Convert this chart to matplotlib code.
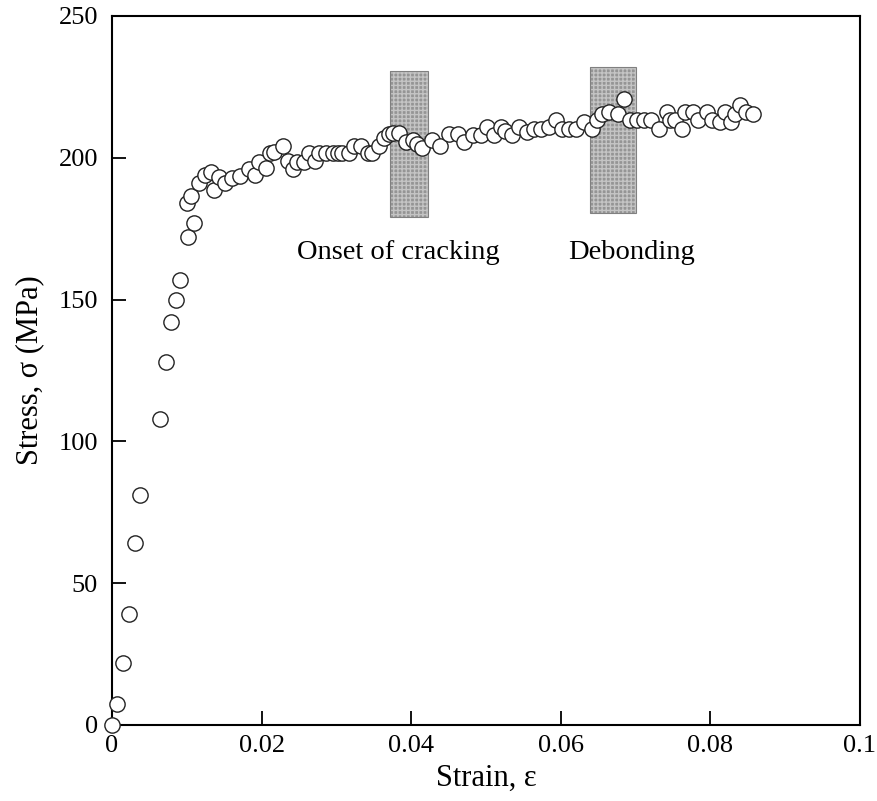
import matplotlib.pyplot as plt
from matplotlib.patches import Rectangle

strain = [0.0, 0.0007, 0.0015, 0.0023, 0.0031, 0.0037, 0.0064, 0.0072, 0.0079, 0.0085,
          0.0091, 0.0101, 0.0110, 0.0100, 0.0105, 0.0116, 0.0124, 0.0133, 0.0137, 0.0143,
          0.0151, 0.0160, 0.0171, 0.0183, 0.0191, 0.0196, 0.0206, 0.0211, 0.0217, 0.0228,
          0.0235, 0.0242, 0.0248, 0.0257, 0.0264, 0.0271, 0.0277, 0.0286, 0.0295, 0.0302,
          0.0308, 0.0317, 0.0324, 0.0333, 0.0342, 0.0348, 0.0357, 0.0364, 0.0370, 0.0376,
          0.0384, 0.0393, 0.0402, 0.0408, 0.0415, 0.0428, 0.0439, 0.0450, 0.0462, 0.0471,
          0.0482, 0.0493, 0.0502, 0.0511, 0.0520, 0.0526, 0.0535, 0.0544, 0.0555, 0.0564,
          0.0573, 0.0584, 0.0593, 0.0602, 0.0611, 0.0620, 0.0631, 0.0642, 0.0648, 0.0655,
          0.0664, 0.0677, 0.0684, 0.0693, 0.0702, 0.0711, 0.0720, 0.0731, 0.0742, 0.0746,
          0.0753, 0.0762, 0.0766, 0.0777, 0.0784, 0.0795, 0.0802, 0.0813, 0.0820, 0.0828,
          0.0833, 0.0840, 0.0848, 0.0857]
stress = [0.0, 7.5, 22, 39, 64, 81, 108, 128, 142, 150,
          157, 172, 177, 184, 186.5, 191, 194, 194.8, 188.6, 193.3,
          191, 192.7, 193.6, 196, 194, 198.6, 196.3, 201.6, 202, 204,
          199, 196, 198.6, 198.6, 201.6, 199, 201.6, 201.6, 201.6, 201.6,
          201.6, 201.6, 204, 204, 201.6, 201.6, 204, 206.8, 208.3, 208.6,
          208.8, 205.7, 206.3, 205, 203.3, 206.3, 204, 208.5, 208.5, 205.7,
          208, 208, 211, 208, 211, 209.6, 208, 211, 209, 210,
          210, 211, 213.3, 210, 210, 210, 212.6, 210, 213.3, 215.6,
          216, 215.6, 220.6, 213.3, 213.3, 213.3, 213.3, 210.3, 216.3, 213.3,
          213.3, 210.3, 216.3, 216.3, 213.3, 216.3, 213.3, 212.6, 216.3, 212.6,
          215.6, 218.6, 216.3, 215.6]

# shaded regions: (x0, x1, y0, y1) and label
zones = [(0.0372, 0.0423, 179, 230.5), (0.0639, 0.0700, 180.5, 232)]
zone_labels = ["Onset of cracking", "Debonding"]
label_pos = [(0.0383, 166.5), (0.0695, 166.5)]

plt.rcParams['font.family'] = ['Liberation Serif', 'DejaVu Serif']

fig = plt.figure(figsize=(8.77, 8.01), dpi=100)
ax = fig.add_axes([0.1277, 0.0949, 0.8529, 0.8852])

for (x0, x1, y0, y1) in zones:
    ax.add_patch(Rectangle((x0, y0), x1 - x0, y1 - y0, facecolor='#959595',
                           edgecolor='#c4c4c4', hatch='++++', linewidth=0, zorder=1))
    ax.add_patch(Rectangle((x0, y0), x1 - x0, y1 - y0, facecolor='none',
                           edgecolor='#808080', linewidth=0.8, zorder=1))

ax.plot(strain, stress, linestyle='none', marker='o', markersize=11,
        markerfacecolor='white', markeredgecolor='#222222', markeredgewidth=1.0,
        zorder=3, clip_on=False)

for lab, (tx, ty) in zip(zone_labels, label_pos):
    ax.text(tx, ty, lab, ha='center', va='center', fontsize=20.5)

ax.set_xlim(0, 0.1)
ax.set_ylim(0, 250)
ax.set_xticks([0, 0.02, 0.04, 0.06, 0.08, 0.1])
ax.set_xticklabels(['0', '0.02', '0.04', '0.06', '0.08', '0.1'])
ax.set_yticks([0, 50, 100, 150, 200, 250])
ax.tick_params(direction='in', length=10, width=1.3, labelsize=19)
ax.tick_params(axis='x', pad=7)
ax.tick_params(axis='y', pad=10)
for sp in ax.spines.values():
    sp.set_linewidth(1.5)

ax.set_xlabel('Strain, ε', fontsize=22, labelpad=5)
ax.set_ylabel('Stress, σ (MPa)', fontsize=22, labelpad=10)

fig.savefig('out.png', dpi=100)
